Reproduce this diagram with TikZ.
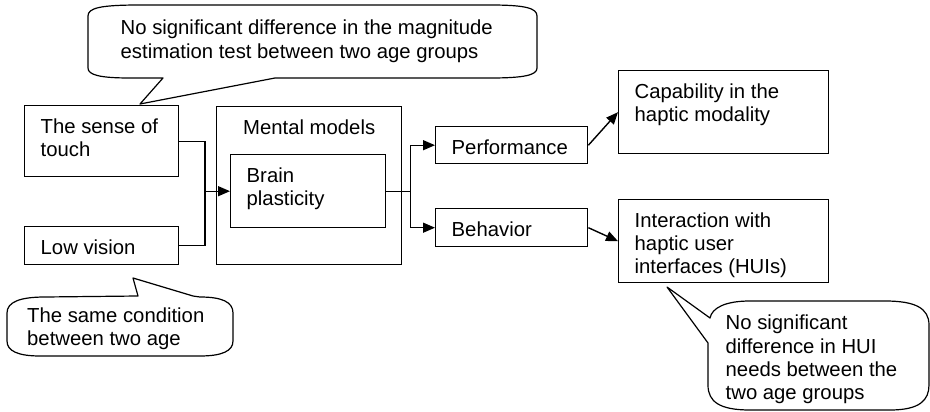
\documentclass[tikz,border=0pt]{standalone}
\usepackage{fontspec}
\setmainfont{Liberation Sans}
\usetikzlibrary{arrows.meta}

\begin{document}
\begin{tikzpicture}[x=1pt, y=-1pt, line width=1.4pt,
  every node/.style={font=\fontsize{20.3pt}{23.2pt}\selectfont},
  box/.style={draw, rectangle, anchor=north west, inner sep=0pt},
  boxtext/.style={anchor=north west, align=left, inner xsep=16pt, inner ysep=13pt},
  notetext/.style={anchor=north west, align=left, inner sep=0pt},
  arr/.style={-{Triangle[length=12pt,width=10pt]}},
  callout/.style={draw, line width=1.2pt, line join=round}]

  \useasboundingbox (0,0) rectangle (930,412);

  % boxes
  \node[box, minimum width=154pt, minimum height=71pt, label={[boxtext]north west:The sense of\\touch}] (touch) at (24,105) {};
  \node[box, minimum width=154pt, minimum height=38pt, label={[boxtext]north west:Low vision}] (lowvis) at (24,226) {};
  \node[box, minimum width=185pt, minimum height=158pt, label={[boxtext, anchor=north]north:Mental models}] (mental) at (216,106) {};
  \node[box, minimum width=155pt, minimum height=73pt, label={[boxtext]north west:Brain\\plasticity}] (brain) at (230,154) {};
  \node[box, minimum width=152pt, minimum height=37pt, label={[boxtext]north west:Performance}] (perf) at (435,126) {};
  \node[box, minimum width=152pt, minimum height=38pt, label={[boxtext]north west:Behavior}] (behav) at (435,208) {};
  \node[box, minimum width=210pt, minimum height=83pt, label={[boxtext]north west:Capability in the\\haptic modality}] (capab) at (618,70) {};
  \node[box, minimum width=210pt, minimum height=83pt, label={[boxtext]north west:Interaction with\\haptic user\\interfaces (HUIs)}] (inter) at (618,199) {};

  % joints
  \path (brain.west) ++(-25,0) coordinate (merge);
  \path (brain.east) ++(24,0) coordinate (split);

  \draw (touch.east) -| (merge);
  \draw (lowvis.east) -| (merge);
  \draw[arr] (merge) -- (brain.west);
  \draw (brain.east) -- (split);
  \draw[arr] (split) |- (perf.west);
  \draw[arr] (split) |- (behav.west);
  \draw[arr] (perf.east) -- (capab.west);
  \draw[arr] (behav.east) -- (inter.west);

  % callouts
  \draw[callout] (88,40) -- (88,16) .. controls (88,8) and (100,5) .. (140,5) -- (490,5)
    .. controls (525,5) and (537,8) .. (537,16) -- (537,68) .. controls (537,75) and (525,78) .. (490,78)
    -- (275,78) -- (140,104) -- (163,78) -- (130,78) .. controls (100,78) and (88,75) .. (88,68) -- cycle;
  \node[notetext] (note1) at (120,19.5) {No significant difference in the magnitude\\estimation test between two age groups};

  \draw[callout] (7,330) -- (7,313) .. controls (7,302) and (20,297) .. (45,297) -- (138,296) -- (133,278)
    -- (193,296) -- (200,297) .. controls (222,297) and (233,302) .. (233,313) -- (233,341)
    .. controls (233,351) and (222,356) .. (200,356) -- (40,356) .. controls (18,356) and (7,351) .. (7,341) -- cycle;
  \node[notetext] (note2) at (26.5,307) {The same condition\\between two age};

  \draw[callout] (710,318) -- (667,287) -- (708,343) -- (708,385) .. controls (708,402) and (720,410) .. (750,410)
    -- (890,410) .. controls (920,410) and (929,400) .. (929,385) -- (929,325)
    .. controls (929,308) and (915,301) .. (885,301) -- (750,301) .. controls (725,301) and (712,308) .. (710,318) -- cycle;
  \node[notetext] (note3) at (725,314.5) {No significant\\difference in HUI\\needs between the\\two age groups};

\end{tikzpicture}
\end{document}
